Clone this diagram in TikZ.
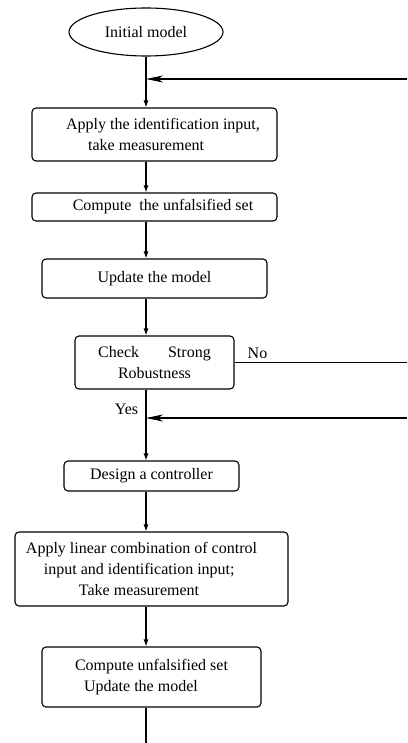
\documentclass[tikz,border=0pt]{standalone}
\usepackage{fontspec}
\setmainfont{Liberation Serif}
\usetikzlibrary{arrows.meta,shapes.geometric}
\begin{document}
\begin{tikzpicture}[
                            x=1pt, y=-1pt,
                            line width=1.1pt,
                            font=\fontsize{16}{21}\selectfont,
                            block/.style={rectangle, draw, rounded corners=4pt, inner sep=0pt},
                            arr/.style={-{Latex[length=7pt,width=5pt]}},
                            back/.style={-{Stealth[length=17pt,width=7pt,inset=5pt]}}
                        ]
                        \useasboundingbox (0,0) rectangle (407,743);
                        % Blocks
                        \node [ellipse, draw, minimum width=154pt, minimum height=48pt, inner sep=0pt] (init) at (146,32) {Initial model};
                        \node [block, minimum width=245pt, minimum height=53pt, align=left] (applyid) at (154.5,134.5) {\hspace*{17pt}Apply the identification input,\\\hspace*{39pt}take measurement};
                        \node [block, minimum width=245pt, minimum height=28pt] (unfals) at (154.5,207) {\hspace*{17pt}Compute\ \ the unfalsified set};
                        \node [block, minimum width=225pt, minimum height=39pt] (update) at (154.5,278.5) {Update the model};
                        \node [block, minimum width=159pt, minimum height=53pt, align=center] (check) at (154.5,362.5) {Check\hspace{29pt}Strong\\Robustness};
                        \node [block, minimum width=175pt, minimum height=30pt] (design) at (151.5,476) {Design a controller};
                        \node [block, minimum width=273pt, minimum height=74pt, align=left] (applymix) at (151.5,569) {Apply linear combination of control\hspace*{20pt}\\\hspace*{18pt}input and identification input;\\\hspace*{53pt}Take measurement};
                        \node [block, minimum width=219pt, minimum height=60pt, align=left] (final) at (151.5,677) {Compute unfalsified set\\\hspace*{9pt}Update the model};
                        \coordinate (back1) at (407,79);
                        \coordinate (back2) at (407,418);
                        \coordinate (noend) at (407,362.5);
                        \coordinate (out) at (146,743);

                        % Connections
                        \draw [arr] (init) -- (init |- applyid.north);
                        \draw [arr] (applyid.south -| init) -- (unfals.north -| init);
                        \draw [arr] (unfals.south -| init) -- (update.north -| init);
                        \draw [arr] (update.south -| init) -- (check.north -| init);
                        \draw [arr] (check.south -| init) --node[pos=0.28, left, xshift=-4pt]{Yes} (design.north -| init);
                        \draw [arr] (design.south -| init) -- (applymix.north -| init);
                        \draw [arr] (applymix.south -| init) -- (final.north -| init);
                        \draw (final.south -| init) -- (out);
                        \draw (check.east) --node[pos=0.133, above]{No} (noend);
                        \draw [back] (back1) -- (back1 -| init);
                        \draw [back] (back2) -- (back2 -| init);
                    \end{tikzpicture}
\end{document}
